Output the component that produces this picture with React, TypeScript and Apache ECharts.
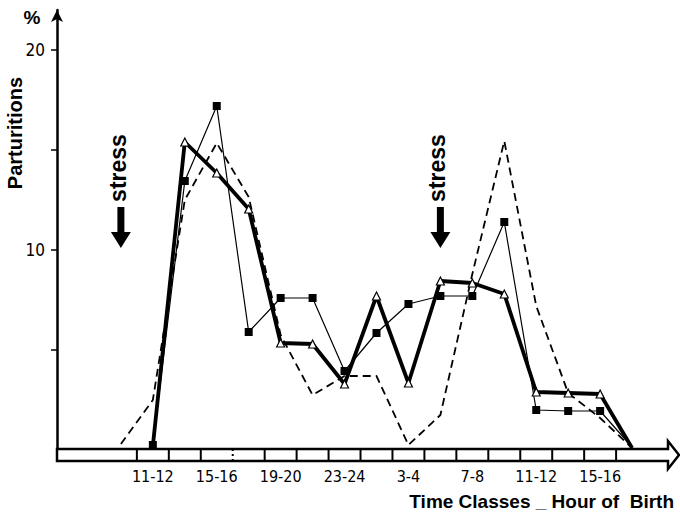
import React, { useEffect, useRef } from "react";
import * as echarts from "echarts";

// Two-hour time classes along the horizontal axis (index = position on the axis)
const timeClasses = [
  "9-10", "11-12", "13-14", "15-16", "17-18", "19-20", "21-22", "23-24",
  "1-2", "3-4", "5-6", "7-8", "9-10", "11-12", "13-14", "15-16", "17-18",
];
// Classes that carry a printed label
const labelledClasses = [1, 3, 5, 7, 9, 11, 13, 15];
// Boundaries between classes drawn inside the axis band
const classBoundaries = [0.5, 1.5, 2.5, 3.5, 4.5, 5.5, 6.5, 7.5, 8.5, 9.5, 10.5, 11.5, 12.5, 13.5, 14.5, 15.5];
// Classes at which a stress was applied
const stressClasses = [0, 10];

// Parturitions (%) per time class
const dashedValues = [0.3, 2.5, 12.5, 15.35, 12.65, 5.75, 2.75, 3.7, 3.7, 0.25, 1.75, 8.8, 15.45, 7.2, 2.85, 1.6, 0.1];
const squareValues = [null, 0.25, 13.45, 17.2, 5.9, 7.6, 7.6, 3.95, 5.85, 7.3, 7.7, 7.7, 11.4, 2.0, 1.95, 1.95, 0.15];
const triangleValues = [null, 0.2, 15.4, 13.85, 12.05, 5.35, 5.3, 3.3, 7.7, 3.35, 8.45, 8.35, 7.8, 2.9, 2.85, 2.8, 0.1];

const yTickValues = [5, 10, 15, 20];
const yLabelValues = [10, 20];

const NARROW = '"Liberation Sans Narrow", "DejaVu Sans Condensed", sans-serif';
const BOLD = '"Liberation Sans", Arial, sans-serif';

function toPoints(values: (number | null)[], hideFirst: boolean) {
  const pts: any[] = [];
  values.forEach((v, i) => {
    if (v === null) return;
    const isFirst = pts.length === 0;
    const isLast = i === values.length - 1;
    if (isLast || (hideFirst && isFirst)) pts.push({ value: [i, v], symbol: "none" });
    else pts.push([i, v]);
  });
  return pts;
}

export default function App() {
  const ref = useRef<HTMLDivElement>(null);

  useEffect(() => {
    if (!ref.current) return;
    const chart = echarts.init(ref.current, null, { renderer: "svg" });

    const option: any = {
      animation: false,
      backgroundColor: "#fff",
      grid: { left: 57, right: 0, top: 10, bottom: 63 },
      title: {
        text: "Time Classes _ Hour of  Birth",
        right: 1,
        top: 487,
        textStyle: { fontFamily: BOLD, fontWeight: "bold", fontSize: 19, color: "#000" },
      },
      xAxis: {
        type: "value",
        min: -2,
        max: 17.5,
        interval: 1,
        axisLine: { show: false, onZero: false },
        axisTick: { show: false },
        splitLine: { show: false },
        axisLabel: {
          customValues: labelledClasses,
          formatter: (v: number) => timeClasses[v] ?? "",
          margin: 18,
          fontFamily: NARROW,
          fontSize: 16,
          color: "#000",
        },
      },
      yAxis: {
        type: "value",
        min: 0,
        max: 22,
        interval: 5,
        splitLine: { show: false },
        axisLine: {
          show: true,
          onZero: false,
          symbol: ["none", "arrow"],
          symbolSize: [9, 12],
          lineStyle: { color: "#000", width: 2.5 },
        },
        axisTick: {
          show: true,
          customValues: yTickValues,
          length: 6,
          lineStyle: { color: "#000", width: 1.5 },
        },
        axisLabel: {
          customValues: yLabelValues,
          margin: 12,
          fontFamily: NARROW,
          fontSize: 17,
          color: "#000",
        },
      },
      graphic: [
        {
          type: "text",
          x: 32,
          y: 17,
          style: { text: "%", font: `bold 19px ${BOLD}`, fill: "#000", align: "center", verticalAlign: "middle" },
        },
        {
          type: "text",
          x: 15,
          y: 133,
          rotation: Math.PI / 2,
          style: { text: "Parturitions", font: `bold 20px ${BOLD}`, fill: "#000", align: "center", verticalAlign: "middle" },
        },
      ],
      series: [
        // hollow axis band with arrow head
        {
          type: "custom",
          silent: true,
          clip: false,
          z: 1,
          data: [[-2, 17.5]],
          renderItem: (params: any, api: any) => {
            const a = api.coord([api.value(0), 0]);
            const b = api.coord([api.value(1), 0]);
            const top = a[1] - 1;
            const bottom = a[1] + 11;
            const mid = (top + bottom) / 2;
            const base = b[0] - 12;
            return {
              type: "polygon",
              shape: {
                points: [
                  [a[0], top], [base, top], [base, mid - 14], [b[0] - 1, mid],
                  [base, mid + 14], [base, bottom], [a[0], bottom],
                ],
              },
              style: { fill: "#fff", stroke: "#000", lineWidth: 2.5, lineJoin: "miter" },
            };
          },
        },
        // class boundaries inside the band
        {
          type: "custom",
          silent: true,
          clip: false,
          z: 2,
          data: classBoundaries.map((b) => [b]),
          renderItem: (params: any, api: any) => {
            const p = api.coord([api.value(0), 0]);
            const dotted = api.value(0) === 3.5;
            return {
              type: "line",
              shape: { x1: p[0], y1: p[1] - 1, x2: p[0], y2: p[1] + 11 },
              style: { stroke: "#000", lineWidth: 2, lineDash: dotted ? [2, 3] : null },
            };
          },
        },
        // stress markers
        {
          type: "custom",
          silent: true,
          clip: false,
          z: 3,
          data: stressClasses.map((c) => [c]),
          renderItem: (params: any, api: any) => {
            const x = api.coord([api.value(0), 0])[0];
            const textY = api.coord([0, 14.1])[1];
            const shaftTop = api.coord([0, 12.15])[1];
            const headBase = api.coord([0, 10.9])[1];
            const tip = api.coord([0, 10.1])[1];
            return {
              type: "group",
              children: [
                {
                  type: "text",
                  x: x - 3,
                  y: textY,
                  rotation: Math.PI / 2,
                  style: {
                    text: "stress",
                    font: `bold 23px ${BOLD}`,
                    fill: "#000",
                    align: "center",
                    verticalAlign: "middle",
                    textAlign: "center",
                    textVerticalAlign: "middle",
                  },
                },
                {
                  type: "rect",
                  shape: { x: x - 3.5, y: shaftTop, width: 7, height: headBase - shaftTop + 1 },
                  style: { fill: "#000" },
                },
                {
                  type: "polygon",
                  shape: { points: [[x - 10, headBase], [x + 10, headBase], [x, tip]] },
                  style: { fill: "#000" },
                },
              ],
            };
          },
        },
        {
          name: "dashed",
          type: "line",
          z: 4,
          data: toPoints(dashedValues, false),
          symbol: "none",
          lineStyle: { color: "#000", width: 1.8, type: [8, 5] },
        },
        {
          name: "squares",
          type: "line",
          z: 5,
          data: toPoints(squareValues, false),
          symbol: "rect",
          symbolSize: 8,
          itemStyle: { color: "#000" },
          lineStyle: { color: "#000", width: 1.2 },
        },
        {
          name: "triangles",
          type: "line",
          z: 6,
          data: toPoints(triangleValues, true),
          symbol: "triangle",
          symbolSize: 8,
          itemStyle: { color: "#fff", borderColor: "#000", borderWidth: 1.2 },
          lineStyle: { color: "#000", width: 3.8 },
        },
      ],
    };

    chart.setOption(option);
    return () => chart.dispose();
  }, []);

  return (
    <div
      ref={ref}
      style={{ position: "absolute", left: 0, top: 0, width: 680, height: 513, background: "#fff" }}
    />
  );
}
